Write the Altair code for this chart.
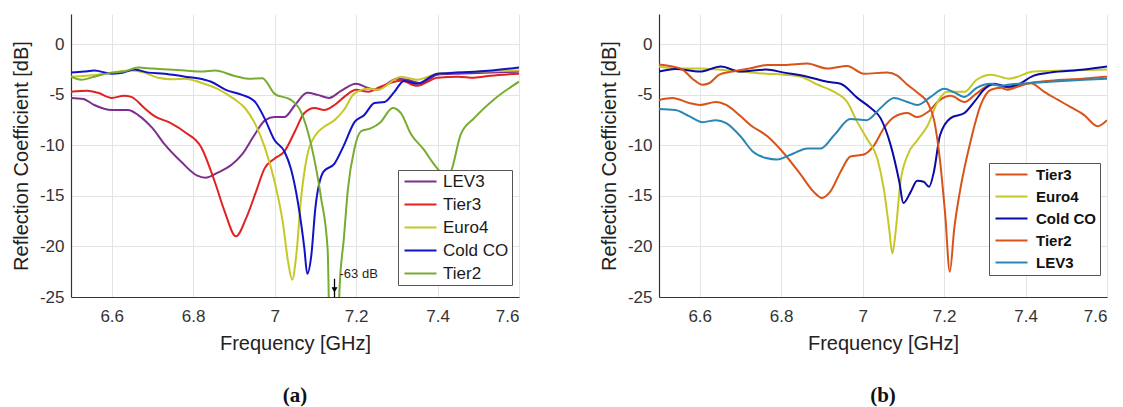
import altair as alt
import pandas as pd

# ---------------- axis ticks ----------------
FREQ_TICKS = [6.6, 6.8, 7.0, 7.2, 7.4, 7.6]
DB_TICKS = [-25, -20, -15, -10, -5, 0]

# ---------------- panel (a) ----------------
A_NAMES = ["LEV3", "Tier3", "Euro4", "Cold CO", "Tier2"]
A_COLORS = ["#7E2F8E", "#E02222", "#C6C828", "#1212C8", "#77AC30"]

a_lev3_f = [6.5, 6.53, 6.557, 6.6, 6.64, 6.665, 6.7, 6.73, 6.77, 6.81, 6.83, 6.86, 6.895, 6.92, 6.95,
            6.977, 7.0, 7.024, 7.05, 7.08, 7.106, 7.134, 7.163, 7.2, 7.228, 7.25, 7.3, 7.325, 7.36,
            7.4, 7.45, 7.53, 7.6]
a_lev3_v = [-5.3, -5.4, -6.0, -6.5, -6.5, -7.0, -8.3, -9.9, -11.6, -13.0, -13.2, -12.7, -11.9, -10.9, -9.0,
            -7.5, -7.2, -7.2, -6.0, -4.8, -5.0, -5.3, -4.6, -3.9, -4.3, -4.5, -3.4, -3.5, -3.85,
            -3.0, -2.9, -2.8, -2.7]

a_tier3_f = [6.5, 6.54, 6.566, 6.6, 6.63, 6.648, 6.68, 6.705, 6.745, 6.78, 6.82, 6.853, 6.877, 6.905,
             6.93, 6.955, 6.975, 7.0, 7.024, 7.05, 7.073, 7.098, 7.122, 7.147, 7.171, 7.2, 7.23, 7.26,
             7.31, 7.35, 7.4, 7.45, 7.49, 7.53, 7.6]
a_tier3_v = [-4.7, -4.6, -4.8, -5.3, -5.1, -5.2, -6.3, -7.1, -7.8, -8.7, -10.2, -13.6, -16.5, -19.0,
             -17.2, -14.5, -12.3, -11.3, -10.6, -8.6, -6.8, -6.3, -6.5, -6.0, -5.2, -4.5, -4.7, -4.2,
             -3.6, -4.1, -3.3, -3.2, -3.3, -3.1, -2.9]

a_euro4_f = [6.5, 6.566, 6.648, 6.68, 6.714, 6.747, 6.78, 6.82, 6.86, 6.9, 6.927, 6.95, 6.975, 7.0,
             7.02, 7.033, 7.043, 7.053, 7.065, 7.08, 7.1, 7.12, 7.147, 7.17, 7.196, 7.23, 7.253, 7.31,
             7.35, 7.4, 7.5, 7.6]
a_euro4_v = [-3.2, -3.0, -2.6, -2.8, -3.3, -3.45, -3.4, -3.8, -4.4, -5.4, -6.3, -7.7, -10.1, -13.6,
             -17.6, -21.5, -23.3, -20.9, -15.2, -11.0, -9.0, -8.2, -7.5, -6.5, -4.85, -4.4, -4.5, -3.2,
             -3.5, -2.9, -2.7, -2.6]

a_cold_f = [6.5, 6.532, 6.557, 6.6, 6.622, 6.656, 6.69, 6.73, 6.78, 6.81, 6.844, 6.88, 6.92, 6.95,
            6.975, 7.0, 7.024, 7.04, 7.057, 7.073, 7.08, 7.09, 7.1, 7.12, 7.147, 7.17, 7.196, 7.22,
            7.245, 7.27, 7.294, 7.318, 7.35, 7.4, 7.45, 7.5, 7.6]
a_cold_v = [-2.8, -2.7, -2.6, -2.9, -2.85, -2.5, -2.8, -2.9, -3.2, -3.35, -3.7, -4.5, -5.0, -5.6,
            -7.3, -9.5, -10.6, -12.3, -15.6, -20.2, -22.7, -20.9, -16.2, -12.6, -11.8, -10.0, -7.7, -7.0,
            -5.8, -5.7, -4.7, -3.6, -3.9, -2.9, -2.8, -2.7, -2.3]

a_tier2_f = [6.5, 6.525, 6.566, 6.6, 6.63, 6.665, 6.7, 6.74, 6.78, 6.82, 6.854, 6.9, 6.935, 6.97,
             7.0, 7.04, 7.065, 7.09, 7.114, 7.13, 7.147, 7.159, 7.17, 7.18, 7.196, 7.212, 7.237, 7.26,
             7.29, 7.31, 7.335, 7.366, 7.39, 7.41, 7.42, 7.433, 7.457, 7.49, 7.54, 7.6]
a_tier2_v = [-3.2, -3.5, -3.1, -2.8, -2.7, -2.3, -2.4, -2.5, -2.6, -2.7, -2.6, -3.1, -3.4, -3.35,
             -4.9, -5.5, -6.7, -10.0, -15.2, -20.2, -63.0, -24.5, -19.2, -14.3, -10.3, -8.6, -8.3, -7.7,
             -6.3, -6.8, -8.9, -10.4, -11.8, -12.8, -13.3, -12.6, -8.9, -7.3, -5.4, -3.7]

# annotation of the off-scale Tier2 minimum
ANNOT_FREQ = [7.147]
ANNOT_TOP = [-23.2]
ANNOT_BOTTOM = [-25.0]
ANNOT_HEAD = [-24.3]
ANNOT_TEXT_Y = [-22.7]
ANNOT_TEXT = ["-63 dB"]

# ---------------- panel (b) ----------------
B_NAMES = ["Tier3", "Euro4", "Cold CO", "Tier2", "LEV3"]
B_COLORS = ["#D95319", "#C6C828", "#0A0AA8", "#D95319", "#2A86B5"]

b_tier3_f = [6.5, 6.533, 6.574, 6.6, 6.64, 6.665, 6.7, 6.725, 6.766, 6.807, 6.848, 6.88, 6.9, 6.92,
             6.946, 6.97, 7.003, 7.028, 7.052, 7.077, 7.11, 7.134, 7.16, 7.19, 7.216, 7.25, 7.28,
             7.315, 7.34, 7.36, 7.4, 7.46, 7.54, 7.6]
b_tier3_v = [-5.5, -5.3, -5.8, -6.0, -5.7, -6.0, -7.1, -8.0, -9.1, -10.8, -12.9, -14.6, -15.2, -14.6,
             -12.6, -11.1, -10.9, -10.0, -8.3, -7.2, -6.8, -7.2, -6.7, -5.5, -5.1, -5.7, -4.85,
             -4.0, -4.1, -4.3, -3.9, -3.6, -3.4, -3.2]

b_euro4_f = [6.5, 6.55, 6.6, 6.7, 6.763, 6.807, 6.848, 6.89, 6.93, 6.962, 6.987, 7.01, 7.036, 7.052,
             7.065, 7.073, 7.08, 7.093, 7.11, 7.134, 7.16, 7.184, 7.208, 7.25, 7.28, 7.315, 7.36,
             7.42, 7.5, 7.6]
b_euro4_v = [-2.2, -2.4, -2.4, -2.7, -2.9, -3.0, -3.2, -4.0, -4.7, -5.7, -7.7, -9.3, -11.3, -14.3,
             -18.2, -20.7, -18.9, -13.6, -11.0, -9.5, -8.0, -5.7, -4.7, -4.7, -3.5, -3.0, -3.4,
             -2.7, -2.6, -2.5]

b_cold_f = [6.5, 6.54, 6.6, 6.652, 6.7, 6.763, 6.807, 6.864, 6.913, 6.946, 6.987, 7.02, 7.044, 7.069,
            7.09, 7.1, 7.118, 7.134, 7.15, 7.163, 7.175, 7.19, 7.216, 7.25, 7.274, 7.3, 7.323, 7.356,
            7.38, 7.42, 7.46, 7.544, 7.6]
b_cold_v = [-2.7, -2.45, -2.7, -2.2, -2.7, -2.5, -2.8, -3.2, -3.7, -3.9, -5.3, -6.3, -7.3, -10.0,
            -13.6, -15.7, -14.6, -13.5, -13.6, -14.1, -12.6, -9.0, -7.3, -6.8, -5.7, -4.4, -3.9, -4.2,
            -4.0, -3.1, -2.8, -2.5, -2.2]

b_tier2_f = [6.5, 6.533, 6.558, 6.582, 6.607, 6.623, 6.648, 6.68, 6.722, 6.766, 6.807, 6.864, 6.913,
             6.962, 7.003, 7.06, 7.085, 7.11, 7.135, 7.16, 7.176, 7.19, 7.203, 7.214, 7.225, 7.24,
             7.265, 7.29, 7.315, 7.34, 7.356, 7.38, 7.413, 7.446, 7.48, 7.51, 7.544, 7.577, 7.6]
b_tier2_v = [-2.0, -2.2, -2.5, -3.4, -4.0, -3.85, -3.0, -2.7, -2.4, -2.05, -2.05, -1.9, -2.4,
             -2.15, -2.9, -2.8, -3.1, -4.0, -4.8, -5.8, -7.6, -11.5, -17.0, -22.5, -18.2, -14.3,
             -9.6, -6.0, -4.5, -4.3, -4.5, -4.2, -3.85, -4.7, -5.5, -6.2, -7.0, -8.1, -7.5]

b_lev3_f = [6.5, 6.54, 6.574, 6.607, 6.64, 6.665, 6.7, 6.73, 6.763, 6.79, 6.83, 6.864, 6.897, 6.93,
            6.97, 7.01, 7.044, 7.077, 7.11, 7.134, 7.167, 7.2, 7.225, 7.25, 7.28, 7.315, 7.34, 7.356,
            7.405, 7.46, 7.544, 7.6]
b_lev3_v = [-6.4, -6.5, -7.1, -7.7, -7.5, -7.8, -9.1, -10.6, -11.25, -11.4, -10.8, -10.3, -10.3, -9.0,
            -7.4, -7.5, -6.3, -5.3, -5.7, -6.0, -5.2, -4.4, -4.75, -5.2, -4.3, -3.9, -4.1, -4.0,
            -3.85, -3.7, -3.5, -3.4]

PANEL_LABELS = ["(a)", "(b)"]


def long_df(names, pairs):
    rows = []
    for name, (fs, vs) in zip(names, pairs):
        for f, v in zip(fs, vs):
            rows.append({"series": name, "freq": f, "db": v})
    return pd.DataFrame(rows)


df_a = long_df(A_NAMES, [(a_lev3_f, a_lev3_v), (a_tier3_f, a_tier3_v), (a_euro4_f, a_euro4_v),
                         (a_cold_f, a_cold_v), (a_tier2_f, a_tier2_v)])
df_b = long_df(B_NAMES, [(b_tier3_f, b_tier3_v), (b_euro4_f, b_euro4_v), (b_cold_f, b_cold_v),
                         (b_tier2_f, b_tier2_v), (b_lev3_f, b_lev3_v)])

PLOT_W = 448
PLOT_H = 283


def lines(df, names, colors, legend):
    return alt.Chart(df).mark_line(strokeWidth=2, interpolate="monotone", clip=True).encode(
        x=alt.X("freq:Q", title="Frequency [GHz]",
                scale=alt.Scale(domain=[6.5, 7.6], nice=False, zero=False),
                axis=alt.Axis(values=FREQ_TICKS, labelExpr="datum.value + ''")),
        y=alt.Y("db:Q", title="Reflection Coefficient [dB]",
                scale=alt.Scale(domain=[-25, 3], nice=False),
                axis=alt.Axis(values=DB_TICKS, labelExpr="datum.value + ''")),
        color=alt.Color("series:N", scale=alt.Scale(domain=names, range=colors),
                        sort=names, legend=legend),
    )


legend_a = alt.Legend(title=None, orient="none", legendX=327, legendY=156,
                      symbolType="M-3.2,0H3.2", symbolSize=100, symbolStrokeWidth=2,
                      symbolOffset=11, labelOffset=14,
                      labelFont="Liberation Sans", labelFontSize=17, labelFontWeight="normal",
                      labelColor="#1a1a1a",
                      strokeColor="#555555", fillColor="white", padding=3, rowPadding=5,
                      cornerRadius=0, labelLimit=300)

legend_b = alt.Legend(title=None, orient="none", legendX=330, legendY=149,
                      symbolType="M-3.2,0H3.2", symbolSize=100, symbolStrokeWidth=2,
                      symbolOffset=11, labelOffset=17,
                      labelFont="Liberation Sans", labelFontSize=15, labelFontWeight="bold",
                      labelColor="#111111",
                      strokeColor="#555555", fillColor="white", padding=4, rowPadding=6,
                      cornerRadius=0, labelLimit=300)

annot_df = pd.DataFrame({"freq": ANNOT_FREQ, "top": ANNOT_TOP, "bottom": ANNOT_BOTTOM,
                         "head": ANNOT_HEAD, "ty": ANNOT_TEXT_Y, "label": ANNOT_TEXT})

arrow = alt.Chart(annot_df).mark_rule(color="black", strokeWidth=1.3).encode(
    x="freq:Q", y="top:Q", y2="bottom:Q")
head = alt.Chart(annot_df).mark_point(shape="triangle-down", filled=True, size=35,
                                      color="black", opacity=1).encode(x="freq:Q", y="head:Q")
atext = alt.Chart(annot_df).mark_text(align="left", baseline="middle", dx=5, fontSize=13,
                                      font="Liberation Sans", color="#262626").encode(
    x="freq:Q", y="ty:Q", text="label:N")


def title(t):
    return alt.TitleParams(text=t, orient="bottom", font="Liberation Serif", fontSize=21,
                           fontWeight="bold", color="#111111", offset=32, frame="group",
                           anchor="middle")


panel_a = alt.layer(lines(df_a, A_NAMES, A_COLORS, legend_a), arrow, head, atext).properties(
    width=PLOT_W, height=PLOT_H, title=title(PANEL_LABELS[0]))
panel_b = alt.layer(lines(df_b, B_NAMES, B_COLORS, legend_b)).properties(
    width=PLOT_W, height=PLOT_H, title=title(PANEL_LABELS[1]))

chart = alt.hconcat(panel_a, panel_b, spacing=78).resolve_scale(
    color="independent"
).resolve_legend(color="independent").properties(
    padding={"left": 10, "top": 13, "right": 0, "bottom": 0}
).configure_view(stroke="transparent").configure_axis(
    labelFont="Liberation Sans", labelFontSize=17, labelColor="#333333",
    titleFont="Liberation Sans", titleFontSize=20, titleFontWeight="normal", titleColor="#222222",
    gridColor="#e3e3e3", gridWidth=1, domainColor="#333333", domainWidth=1.2, ticks=False,
).configure_axisX(labelPadding=11, titlePadding=9).configure_axisY(labelPadding=7, titlePadding=8)

chart.save("out.html", embed_options={"renderer": "svg", "actions": False})
